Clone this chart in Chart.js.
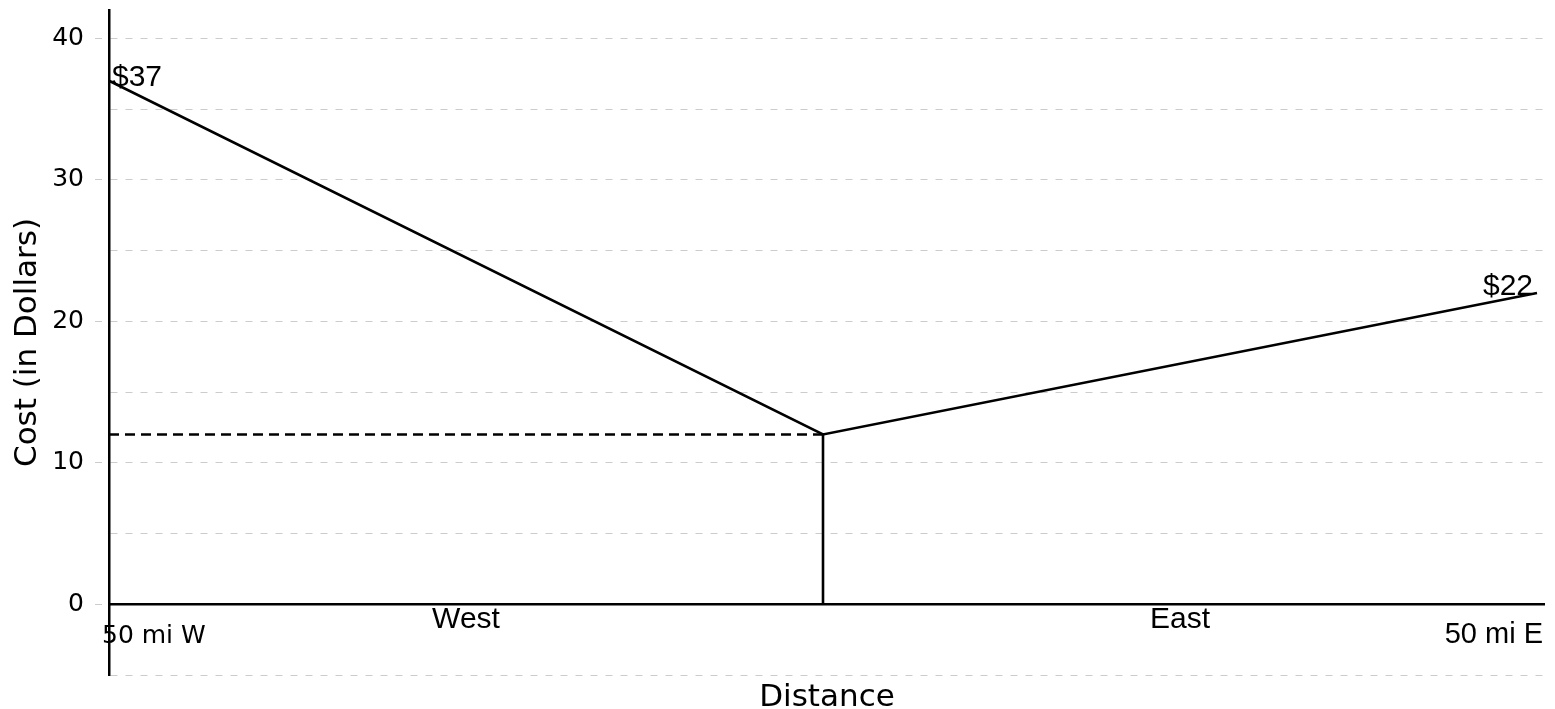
<!DOCTYPE html>
<html>
<head>
<meta charset="utf-8">
<script src="https://cdn.jsdelivr.net/npm/chart.js@4"></script>
<style>
  html, body { margin: 0; padding: 0; background: #fff; }
  #wrap { width: 1555px; height: 709px; }
</style>
</head>
<body>
<div id="wrap"><canvas id="myChart"></canvas></div>
<script>
// datos
const distancias = [-50, 0, 50];
const costos = [37, 12, 22];
const minimoX = 0;
const minimoY = 12;
const yGrid = [-5, 0, 5, 10, 15, 20, 25, 30, 35, 40];
const yEtiquetas = [0, 10, 20, 30, 40];
const lados = ['West', 'East'];
const extremos = ['50 mi W', '50 mi E'];

const linea = distancias.map((d, i) => ({x: d, y: costos[i]}));
const punteada = [{x: distancias[0], y: minimoY}, {x: minimoX, y: minimoY}];
const vertical = [{x: minimoX, y: 0}, {x: minimoX, y: minimoY}];

// plugin para el eje en y=0 y los textos
const textos = {
    id: 'textos',
    beforeDatasetsDraw(chart) {
        const {ctx, chartArea, scales: {y}} = chart;
        ctx.save();
        ctx.strokeStyle = '#000';
        ctx.lineWidth = 2.5;
        ctx.beginPath();
        ctx.moveTo(chartArea.left, y.getPixelForValue(0));
        ctx.lineTo(chartArea.right, y.getPixelForValue(0));
        ctx.stroke();
        ctx.restore();
    },
    afterDatasetsDraw(chart) {
        const {ctx, scales: {x, y}} = chart;
        const y0 = y.getPixelForValue(0);
        ctx.save();
        ctx.fillStyle = '#000';
        ctx.textBaseline = 'alphabetic';
        ctx.font = '30px "Liberation Sans"';
        // precios en los extremos
        ctx.textAlign = 'left';
        ctx.fillText('$' + costos[0], x.getPixelForValue(distancias[0]) + 3, y.getPixelForValue(costos[0]) + 5);
        ctx.textAlign = 'right';
        ctx.fillText('$' + costos[2], x.getPixelForValue(distancias[2]) - 4, y.getPixelForValue(costos[2]) + 2);
        // West / East
        ctx.textAlign = 'center';
        ctx.fillText(lados[0], x.getPixelForValue((distancias[0] + minimoX) / 2), y0 + 24);
        ctx.fillText(lados[1], x.getPixelForValue((distancias[2] + minimoX) / 2), y0 + 24);
        // 50 mi
        ctx.font = '29px "Liberation Sans"';
        ctx.textAlign = 'right';
        ctx.fillText(extremos[1], x.getPixelForValue(distancias[2]) + 6, y0 + 39);
        ctx.font = '25px "DejaVu Sans"';
        ctx.textAlign = 'left';
        ctx.fillText(extremos[0], x.getPixelForValue(distancias[0]) - 7, y0 + 39);
        ctx.restore();
    }
};

const ctx = document.getElementById('myChart').getContext('2d');
window.myLineChart = new Chart(ctx, {
    type: 'scatter',
    data: {
        datasets: [{
                data: linea,
                showLine: true,
                borderColor: '#000',
                borderWidth: 2.6,
                pointRadius: 0
            },
            {
                data: punteada,
                showLine: true,
                borderColor: '#000',
                borderWidth: 2.6,
                borderDash: [10, 6],
                pointRadius: 0
            },
            {
                data: vertical,
                showLine: true,
                borderColor: '#000',
                borderWidth: 2.6,
                pointRadius: 0
            }
        ]
    },
    options: {
        responsive: true,
        maintainAspectRatio: false,
        animation: false,
        layout: {padding: {top: 10, right: 10, left: 0, bottom: 0}},
        plugins: {
            legend: {display: false},
            tooltip: {enabled: false}
        },
        scales: {
            x: {
                type: 'linear',
                min: -50,
                max: 50.56,
                border: {display: false},
                grid: {display: false},
                ticks: {display: false},
                title: {
                    display: true,
                    text: 'Distance',
                    color: '#000',
                    font: {family: 'DejaVu Sans', size: 31},
                    padding: {top: 0, bottom: -8}
                },
                afterFit(scale) { scale.height = 34; }
            },
            y: {
                type: 'linear',
                min: -5,
                max: 42,
                afterBuildTicks(scale) {
                    scale.ticks = yGrid.map(v => ({value: v}));
                },
                border: {display: true, color: '#000', width: 2.5, dash: [7, 8]},
                grid: {
                    color: '#cccccc',
                    lineWidth: 1,
                    tickLength: 14,
                    tickColor: (c) => yEtiquetas.includes(c.tick.value) ? '#cccccc' : 'rgba(0,0,0,0)',
                    tickBorderDash: [7, 8]
                },
                ticks: {
                    color: '#000',
                    padding: 11,
                    font: {family: 'DejaVu Sans', size: 25},
                    callback: (v) => yEtiquetas.includes(v) ? String(v) : ''
                },
                title: {
                    display: true,
                    text: 'Cost (in Dollars)',
                    color: '#000',
                    font: {family: 'DejaVu Sans', size: 31},
                    padding: {top: 9, bottom: 0}
                },
                afterFit(scale) {
                    scale.width = 109;
                    scale.paddingTop = 0;
                    scale.paddingBottom = 0;
                }
            }
        }
    },
    plugins: [textos]
});
</script>
</body>
</html>
